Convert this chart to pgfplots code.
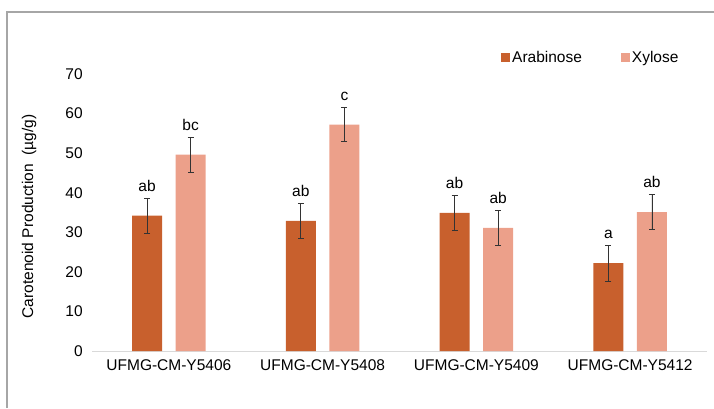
\documentclass[border=0pt]{standalone}
\usepackage{fontspec}
\setmainfont{Liberation Sans}
\usepackage{pgfplots}
\pgfplotsset{compat=1.18}
\definecolor{arab}{HTML}{C8602D}
\definecolor{xyl}{HTML}{ECA08A}
\definecolor{frame}{HTML}{A6A6A6}
\definecolor{axgray}{HTML}{D9D9D9}
\begin{document}
\fontsize{15.5}{18}\selectfont
\begin{tikzpicture}
\useasboundingbox (0,0) rectangle (714pt,408pt);
\begin{axis}[
  at={(92pt,57pt)}, anchor=south west,
  scale only axis, width=615pt, height=277pt,
  xmin=-0.5, xmax=3.5, ymin=0, ymax=70,
  axis x line*=bottom, axis y line*=left,
  x axis line style={draw=axgray, line width=1pt, -},
  y axis line style={draw=none},
  major tick length=0pt,
  xtick={0,1,2,3},
  xticklabels={UFMG-CM-Y5406,UFMG-CM-Y5408,UFMG-CM-Y5409,UFMG-CM-Y5412},
  ytick={0,10,...,70},
  /pgf/number format/assume math mode=true,
  tick label style={font=\fontsize{15.5}{18}\selectfont},
  yticklabel style={xshift=-4pt},
  xticklabel style={yshift=-3pt},
  ylabel={Carotenoid Production\ \ (µg/g)},
  ylabel style={at={(axis description cs:-0.1024,0.486)}, anchor=center, font=\fontsize{15.5}{18}\selectfont},
  legend style={at={(axis description cs:0.665,1.058)}, anchor=west, draw=none, fill=none,
    font=\fontsize{15.5}{18}\selectfont, inner sep=0pt,
    /tikz/every even column/.append style={column sep=37pt}},
  legend columns=2,
  legend image code/.code={\fill[#1] (0pt,-4.5pt) rectangle (9pt,4.5pt);},
  error bars/error bar style={line width=0.8pt, black!80},
  error bars/error mark options={rotate=90, mark size=3pt, line width=0.8pt, black!80},
]
\addplot[ybar, bar width=0.195, bar shift=0, fill=arab, draw=none,
  error bars/.cd, y dir=both, y explicit]
  coordinates {(-0.1417,34.2) +- (0,4.4) (0.8583,32.9) +- (0,4.4) (1.8583,34.9) +- (0,4.3) (2.8583,22.2) +- (0,4.5)};
\addlegendentry{Arabinose}
\addplot[ybar, bar width=0.195, bar shift=0, fill=xyl, draw=none,
  error bars/.cd, y dir=both, y explicit]
  coordinates {(0.1417,49.6) +- (0,4.4) (1.1417,57.2) +- (0,4.3) (2.1417,31.1) +- (0,4.4) (3.1417,35.1) +- (0,4.4)};
\addlegendentry{Xylose}
% significance letters at error bar tops
\addplot[draw=none, mark=none, forget plot, nodes near coords, point meta=explicit symbolic,
  every node near coord/.append style={anchor=base, yshift=7pt, font=\fontsize{15.5}{18}\selectfont}]
  coordinates {(-0.1417,38.6) [ab] (0.8583,37.3) [ab] (1.8583,39.2) [ab] (2.8583,26.7) [a]
               (0.1417,54.0) [bc] (1.1417,61.5) [c] (2.1417,35.5) [ab] (3.1417,39.5) [ab]};
\end{axis}
\draw[frame, line width=1.2pt] (7pt,0pt) -- (7pt,396pt) -- (714pt,396pt);
\end{tikzpicture}
\end{document}
